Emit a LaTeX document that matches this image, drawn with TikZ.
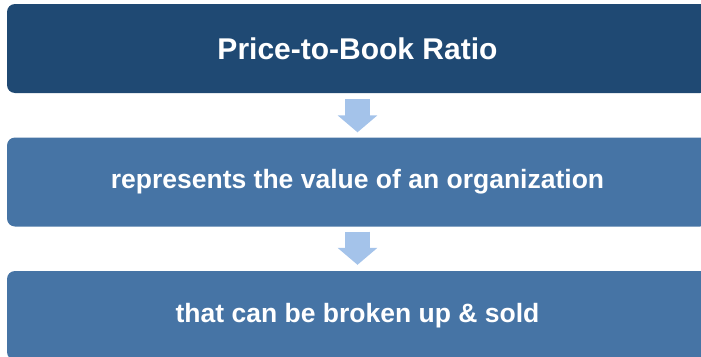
\documentclass[tikz,border=0pt]{standalone}
\usepackage{fontspec}
\setmainfont{Liberation Sans}
\usetikzlibrary{arrows.meta}
\definecolor{darkblue}{RGB}{31,73,115}
\definecolor{midblue}{RGB}{70,116,165}
\definecolor{paleblue}{RGB}{164,195,234}

\begin{document}
\begin{tikzpicture}[x=1pt,y=-1pt,
    band/.style={fill=#1,rounded corners=8pt,minimum width=701pt,minimum height=89pt,
      inner sep=0pt,text=white,font=\bfseries\fontsize{26.5}{30}\selectfont},
    down/.style={line width=25pt,paleblue,-{Triangle[width=39pt,length=17pt]}}]
  \useasboundingbox (0,0) rectangle (701,356);
  \clip (0,0) rectangle (701,356);
  \node[band=darkblue,font=\bfseries\fontsize{30}{34}\selectfont] (ratio) at (357.5,48.5) {Price-to-Book Ratio};
  \node[band=midblue] (value) at (357.5,182) {represents the value of an organization};
  \node[band=midblue] (sold) at (357.5,315.5) {that can be broken up \& sold};
  \draw[down] ([yshift=-6pt]ratio.south) -- ([yshift=5pt]value.north);
  \draw[down] ([yshift=-5pt]value.south) -- ([yshift=6pt]sold.north);
\end{tikzpicture}
\end{document}
